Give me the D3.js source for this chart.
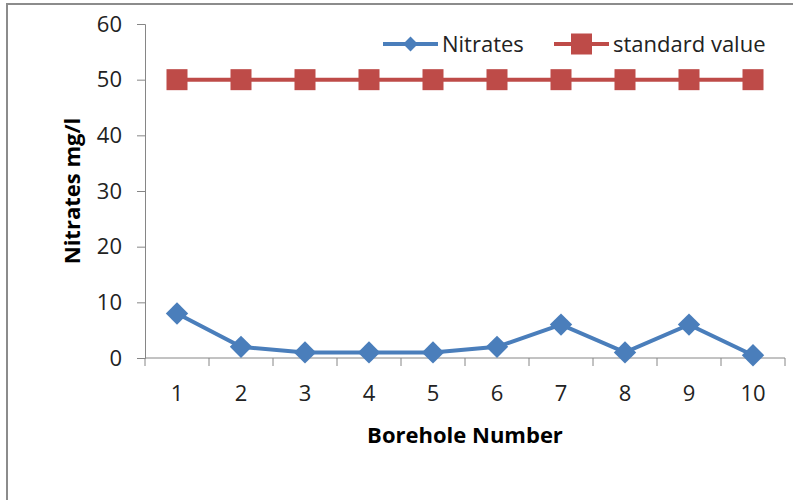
<!DOCTYPE html>
<html>
<head>
<meta charset="utf-8">
<script src="https://cdn.jsdelivr.net/npm/d3@7"></script>
<style>
  html, body { margin: 0; padding: 0; background: #fff; }
  svg { display: block; }
  text { font-family: "Open Sans", "Liberation Sans", sans-serif; }
</style>
</head>
<body>
<svg id="chart" width="793" height="500"></svg>
<script>
// Borehole nitrate readings against the drinking-water standard
const boreholes = [1, 2, 3, 4, 5, 6, 7, 8, 9, 10];
const nitrates = [8, 2, 1, 1, 1, 2, 6, 1, 6, 0.5];
const standardValue = [50, 50, 50, 50, 50, 50, 50, 50, 50, 50];
const yTicks = [0, 10, 20, 30, 40, 50, 60];
const seriesNames = ["Nitrates", "standard value"];

const svg = d3.select("#chart");
const W = 793, H = 500;
const plot = { left: 145, right: 785, top: 24, bottom: 358 };

// outer chart frame (runs past the right and bottom edges)
svg.append("rect")
  .attr("x", 7).attr("y", 4)
  .attr("width", W).attr("height", H)
  .attr("fill", "#fff")
  .attr("stroke", "#8c8c8c").attr("stroke-width", 2);

const x = d3.scaleBand().domain(boreholes).range([plot.left, plot.right]).padding(0);
const y = d3.scaleLinear().domain([0, 60]).range([plot.bottom, plot.top]);
const cx = d => x(d) + x.bandwidth() / 2;

const axisColor = "#868686";
const textColor = "#222";
const fs = "22px";

// y axis
const yAxis = svg.append("g")
  .attr("transform", `translate(${plot.left},0)`)
  .call(d3.axisLeft(y).tickValues(yTicks).tickSize(8).tickPadding(15).tickFormat(d3.format("d")));
yAxis.select(".domain").attr("stroke", axisColor);
yAxis.selectAll(".tick line").attr("stroke", axisColor);
yAxis.selectAll(".tick text")
  .attr("fill", textColor).style("font-size", fs);

// x axis: ticks on category boundaries
const xAxis = svg.append("g")
  .attr("transform", `translate(0,${plot.bottom})`);
xAxis.append("line")
  .attr("x1", plot.left).attr("x2", plot.right)
  .attr("y1", 0).attr("y2", 0)
  .attr("stroke", axisColor);
const bounds = boreholes.map(d => x(d)).concat([plot.right]);
xAxis.selectAll("line.bound").data(bounds).enter().append("line")
  .attr("class", "bound")
  .attr("x1", d => d).attr("x2", d => d)
  .attr("y1", 0).attr("y2", 8)
  .attr("stroke", axisColor);
xAxis.selectAll("text.lbl").data(boreholes).enter().append("text")
  .attr("class", "lbl")
  .attr("x", d => cx(d)).attr("y", 43)
  .attr("text-anchor", "middle")
  .attr("fill", textColor).style("font-size", fs)
  .text(d => d);

// axis titles
svg.append("text")
  .attr("transform", `translate(80,191) rotate(-90)`)
  .attr("text-anchor", "middle")
  .attr("fill", "#000").style("font-size", "22px").style("font-weight", "bold")
  .text("Nitrates mg/l");
svg.append("text")
  .attr("x", 465).attr("y", 443)
  .attr("text-anchor", "middle")
  .attr("fill", "#000").style("font-size", "22px").style("font-weight", "bold")
  .text("Borehole Number");

const blue = "#4A7EBB", red = "#BE4B48";
const line = d3.line().x((d, i) => cx(boreholes[i])).y(d => y(d));

// standard value series
svg.append("path").datum(standardValue)
  .attr("d", line).attr("fill", "none")
  .attr("stroke", red).attr("stroke-width", 4);
const sq = 21;
svg.selectAll("rect.std").data(standardValue).enter().append("rect")
  .attr("class", "std")
  .attr("x", (d, i) => cx(boreholes[i]) - sq / 2)
  .attr("y", d => y(d) - sq / 2)
  .attr("width", sq).attr("height", sq)
  .attr("fill", red);

// nitrates series
svg.append("path").datum(nitrates)
  .attr("d", line).attr("fill", "none")
  .attr("stroke", blue).attr("stroke-width", 4);
const diamond = d3.symbol().type(d3.symbolSquare).size(250);
svg.selectAll("path.nit").data(nitrates).enter().append("path")
  .attr("class", "nit")
  .attr("d", diamond)
  .attr("transform", (d, i) => `translate(${cx(boreholes[i])},${y(d)}) rotate(45)`)
  .attr("fill", blue);

// legend
const legend = svg.append("g");
const legendItems = [
  { name: seriesNames[0], color: blue, x0: 383, marker: "diamond" },
  { name: seriesNames[1], color: red, x0: 554, marker: "square" }
];
const ly = 44;
legendItems.forEach(it => {
  const g = legend.append("g");
  g.append("line")
    .attr("x1", it.x0).attr("x2", it.x0 + 55)
    .attr("y1", ly).attr("y2", ly)
    .attr("stroke", it.color).attr("stroke-width", 4);
  if (it.marker === "diamond") {
    g.append("path")
      .attr("d", d3.symbol().type(d3.symbolSquare).size(110))
      .attr("transform", `translate(${it.x0 + 27.5},${ly}) rotate(45)`)
      .attr("fill", it.color);
  } else {
    g.append("rect")
      .attr("x", it.x0 + 27.5 - 10.5).attr("y", ly - 10.5)
      .attr("width", 21).attr("height", 21)
      .attr("fill", it.color);
  }
  g.append("text")
    .attr("x", it.x0 + 59).attr("y", 52)
    .attr("fill", textColor).style("font-size", fs)
    .text(it.name);
});
</script>
</body>
</html>
